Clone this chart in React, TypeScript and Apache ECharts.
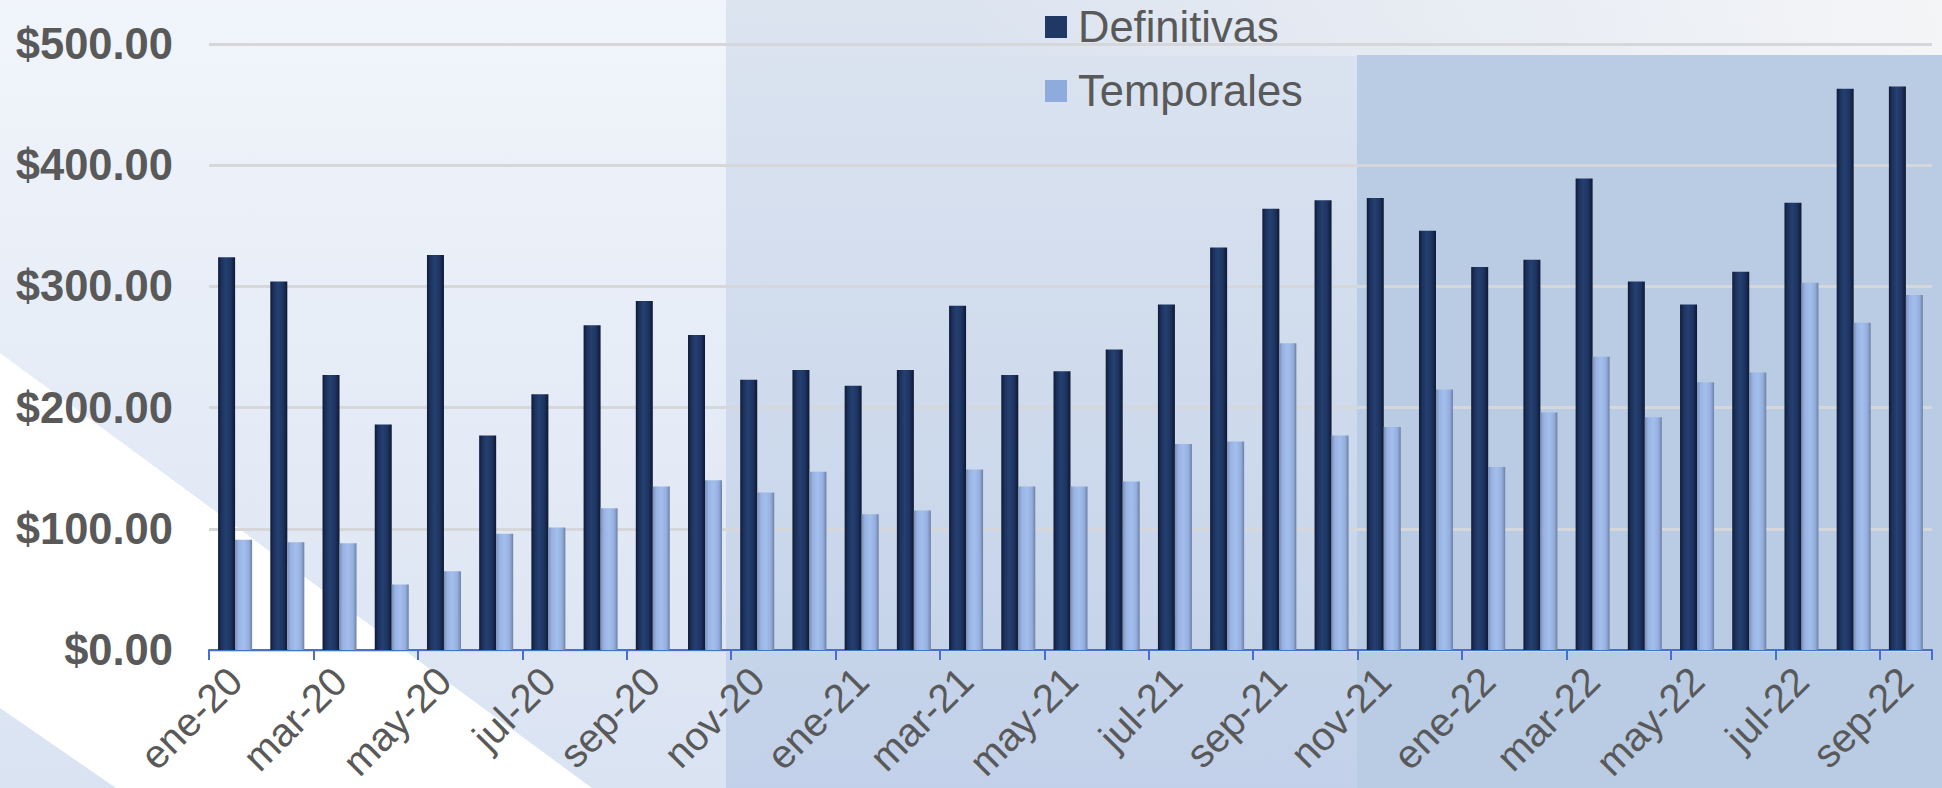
import React, { useEffect, useRef } from "react";
import * as echarts from "echarts";

const categories = [
  "ene-20", "feb-20", "mar-20", "abr-20", "may-20", "jun-20", "jul-20", "ago-20", "sep-20", "oct-20", "nov-20", "dic-20",
  "ene-21", "feb-21", "mar-21", "abr-21", "may-21", "jun-21", "jul-21", "ago-21", "sep-21", "oct-21", "nov-21", "dic-21",
  "ene-22", "feb-22", "mar-22", "abr-22", "may-22", "jun-22", "jul-22", "ago-22", "sep-22",
];

const definitivas = [
  324, 304, 227, 186, 326, 177, 211, 268, 288, 260, 223, 231,
  218, 231, 284, 227, 230, 248, 285, 332, 364, 371, 373, 346,
  316, 322, 389, 304, 285, 312, 369, 463, 465,
];

const temporales = [
  91, 89, 88, 54, 65, 96, 101, 117, 135, 140, 130, 147,
  112, 115, 149, 135, 135, 139, 170, 172, 253, 177, 184, 215,
  151, 196, 242, 192, 221, 229, 303, 270, 293,
];

const yTicks = { min: 0, max: 500, interval: 100 };

const FONT = "'Liberation Sans', Arial, sans-serif";

export default function App() {
  const ref = useRef<HTMLDivElement>(null);

  useEffect(() => {
    if (!ref.current) return;
    const chart = echarts.init(ref.current, null, { renderer: "svg" });

    const darkGrad = new echarts.graphic.LinearGradient(0, 0, 1, 0, [
      { offset: 0, color: "#101a33" },
      { offset: 0.2, color: "#1c3260" },
      { offset: 0.45, color: "#24406f" },
      { offset: 0.75, color: "#1d3462" },
      { offset: 1, color: "#0f1830" },
    ]);
    const lightGrad = new echarts.graphic.LinearGradient(0, 0, 1, 0, [
      { offset: 0, color: "#7a8fb5" },
      { offset: 0.2, color: "#98b3e4" },
      { offset: 0.5, color: "#a4beec" },
      { offset: 0.8, color: "#94afdf" },
      { offset: 1, color: "#6d80a4" },
    ]);

    const option: any = {
      animation: false,
      textStyle: { fontFamily: FONT },
      graphic: {
        elements: [
          {
            type: "rect",
            silent: true,
            z: -100,
            shape: { x: 0, y: 0, width: 1942, height: 788 },
            style: {
              fill: new echarts.graphic.LinearGradient(0, 0, 0, 1, [
                { offset: 0, color: "#f1f5fb" },
                { offset: 1, color: "#dae3f2" },
              ]),
            },
          },
          {
            type: "polygon",
            silent: true,
            z: -99,
            shape: { points: [[0, 353], [592, 788], [116, 788], [0, 708]] },
            style: { fill: "#ffffff" },
          },
          {
            type: "rect",
            silent: true,
            z: -98,
            shape: { x: 726, y: 0, width: 1216, height: 788 },
            style: {
              fill: new echarts.graphic.LinearGradient(0, 0, 0, 1, [
                { offset: 0, color: "#dce4f0" },
                { offset: 1, color: "#c2d1e9" },
              ]),
            },
          },
          {
            type: "rect",
            silent: true,
            z: -97,
            shape: { x: 960, y: 0, width: 982, height: 56 },
            style: {
              fill: new echarts.graphic.LinearGradient(0, 0, 1, 0, [
                { offset: 0, color: "rgba(244,245,247,0)" },
                { offset: 1, color: "rgba(244,245,247,1)" },
              ]),
            },
          },
          {
            type: "rect",
            silent: true,
            z: -96,
            shape: { x: 1357, y: 55, width: 585, height: 733 },
            style: { fill: "#b9cce4" },
          },
        ],
      },
      legend: {
        orient: "vertical",
        left: 1040,
        top: 0,
        itemWidth: 22,
        itemHeight: 22,
        itemGap: 20,
        icon: "rect",
        textStyle: { fontSize: 43.5, color: "#595959", fontFamily: FONT, padding: [0, 0, 0, 6] },
        data: [
          { name: "Definitivas", itemStyle: { color: "#1f3864" } },
          { name: "Temporales", itemStyle: { color: "#8faadc" } },
        ],
      },
      grid: {
        left: 209,
        right: 10,
        top: 44,
        bottom: 138,
        containLabel: false,
        outerBoundsMode: "none",
      },
      xAxis: {
        type: "category",
        data: categories,
        boundaryGap: true,
        axisLine: { show: true, lineStyle: { color: "#4472c4", width: 2 } },
        axisTick: { show: true, interval: 1, length: 10, lineStyle: { color: "#4472c4", width: 2 } },
        axisLabel: {
          interval: 1,
          rotate: 45,
          margin: 24,
          fontSize: 40,
          color: "#595959",
          fontFamily: FONT,
        },
      },
      yAxis: {
        type: "value",
        min: yTicks.min,
        max: yTicks.max,
        interval: yTicks.interval,
        axisLine: { show: false },
        axisTick: { show: false },
        splitLine: { show: true, lineStyle: { color: "#d5d7da", width: 3 } },
        axisLabel: {
          margin: 36,
          fontSize: 43.5,
          fontWeight: "bold",
          color: "#595959",
          fontFamily: FONT,
          formatter: (v: number) => "$" + v.toFixed(2),
        },
      },
      series: [
        {
          name: "Definitivas",
          type: "bar",
          data: definitivas,
          barWidth: 17,
          barGap: "0%",
          itemStyle: { color: darkGrad },
        },
        {
          name: "Temporales",
          type: "bar",
          data: temporales,
          barWidth: 17,
          barGap: "0%",
          itemStyle: { color: lightGrad },
        },
      ],
    };

    chart.setOption(option);
    return () => chart.dispose();
  }, []);

  return (
    <div
      ref={ref}
      style={{ position: "absolute", left: 0, top: 0, width: 1942, height: 788 }}
    />
  );
}
